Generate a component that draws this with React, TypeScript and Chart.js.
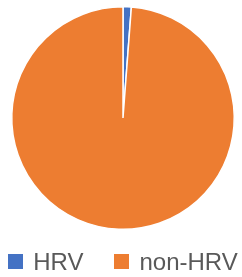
import React, { useEffect, useRef } from "react";
import { Chart, registerables } from "chart.js";

Chart.register(...registerables);

const categories = ["HRV", "non-HRV"];
const values = [1.2, 98.8];
const colors = ["#4472C4", "#ED7D31"];

const FONT = "24px 'Liberation Sans', Arial, sans-serif";

const bottomLegend = {
  id: "bottomLegend",
  afterDraw(chart: any) {
    const ctx = chart.ctx as CanvasRenderingContext2D;
    const labels: string[] = chart.data.labels;
    const bg: string[] = chart.data.datasets[0].backgroundColor;
    const box = 15;
    const textGap = 10;
    const itemGap = 31;
    ctx.save();
    ctx.font = FONT;
    const widths = labels.map((l) => box + textGap + ctx.measureText(l).width);
    const total = widths.reduce((a, b) => a + b, 0) + itemGap * (labels.length - 1);
    const area = chart.chartArea;
    const cx = (area.left + area.right) / 2;
    let x = cx - total / 2;
    const yMid = area.bottom + 32;
    ctx.textBaseline = "middle";
    ctx.textAlign = "left";
    labels.forEach((l, i) => {
      ctx.fillStyle = bg[i];
      ctx.fillRect(Math.round(x), Math.round(yMid - box / 2) - 1, box, box);
      ctx.fillStyle = "#595959";
      ctx.fillText(l, x + box + textGap, yMid + 1);
      x += widths[i] + itemGap;
    });
    ctx.restore();
  },
};

export default function App() {
  const ref = useRef<HTMLCanvasElement | null>(null);
  useEffect(() => {
    document.body.style.margin = "0";
    if (!ref.current) return;
    const chart = new Chart(ref.current, {
      type: "pie",
      data: {
        labels: categories,
        datasets: [
          {
            data: values,
            backgroundColor: colors,
            borderColor: "#ffffff",
            borderWidth: 1.5,
          },
        ],
      },
      options: {
        animation: false,
        responsive: false,
        maintainAspectRatio: false,
        layout: { padding: { top: 6, bottom: 47, left: 11, right: 7 } },
        plugins: {
          tooltip: { enabled: false },
          legend: { display: false },
        },
      },
      plugins: [bottomLegend],
    });
    return () => chart.destroy();
  }, []);
  return (
    <div style={{ position: "absolute", left: 0, top: 0, width: 242, height: 277 }}>
      <canvas ref={ref} width={242} height={277} />
    </div>
  );
}
